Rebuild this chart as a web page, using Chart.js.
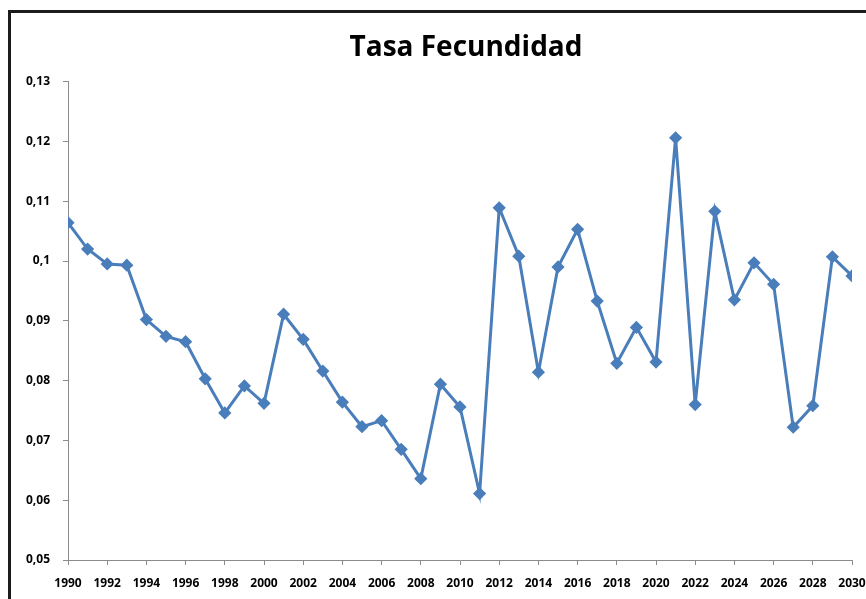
<!DOCTYPE html>
<html>
<head>
<meta charset="utf-8">
<script src="https://cdn.jsdelivr.net/npm/chart.js@4/dist/chart.umd.min.js"></script>
<style>
  body { margin: 0; background: #fff; overflow: hidden; }
  #frame { position: absolute; left: 8px; top: 10px; width: 940px; height: 640px; border: 3px solid #1c1c1c; }
  /* the frame runs past the right edge of the window, so the canvas does too */
  #wrap { position: absolute; left: 0; top: 0; width: 924px; height: 599px; }
</style>
</head>
<body>
<div id="frame"></div>
<div id="wrap"><canvas id="chart"></canvas></div>
<script>
const years = [1990, 1991, 1992, 1993, 1994, 1995, 1996, 1997, 1998, 1999,
               2000, 2001, 2002, 2003, 2004, 2005, 2006, 2007, 2008, 2009,
               2010, 2011, 2012, 2013, 2014, 2015, 2016, 2017, 2018, 2019,
               2020, 2021, 2022, 2023, 2024, 2025, 2026, 2027, 2028, 2029, 2030];
const tasaFecundidad = [0.1064, 0.1020, 0.0995, 0.0993, 0.0902, 0.0874, 0.0865, 0.0803, 0.0746, 0.0791,
                        0.0762, 0.0911, 0.0869, 0.0816, 0.0764, 0.0723, 0.0733, 0.0685, 0.0636, 0.0794,
                        0.0756, 0.0611, 0.1089, 0.1008, 0.0814, 0.0990, 0.1053, 0.0933, 0.0829, 0.0889,
                        0.0831, 0.1206, 0.0760, 0.1083, 0.0935, 0.0997, 0.0961, 0.0722, 0.0758, 0.1007, 0.0975];
const yMin = 0.05, yMax = 0.13, yStep = 0.01;
const xStep = 2;

const axisColor = '#8c8c8c';
const tickFont = { family: 'Open Sans', size: 12, weight: 'bold' };

const ctx = document.getElementById('chart').getContext('2d');
const chart = new Chart(ctx, {
    type: 'line',
    data: {
        datasets: [{
            label: 'Tasa Fecundidad',
            data: years.map((y, i) => ({ x: y, y: tasaFecundidad[i] })),
            borderColor: '#4a7ebb',
            backgroundColor: '#4a7ebb',
            borderWidth: 3,
            pointStyle: 'rectRot',
            pointRadius: 4.5,
            pointHoverRadius: 4.5,
            tension: 0,
            fill: false,
        }]
    },
    options: {
        responsive: true,
        maintainAspectRatio: false,
        animation: false,
        layout: { padding: { left: 8, top: 10, right: 0, bottom: 0 } },
        plugins: {
            legend: { display: false },
            tooltip: { enabled: false },
            title: {
                display: true,
                text: 'Tasa Fecundidad',
                color: '#000',
                font: { family: 'Open Sans', size: 28, weight: 'bold' },
                padding: { top: 21, bottom: 17 }
            }
        },
        scales: {
            x: {
                type: 'linear',
                min: 1990,
                max: 2030,
                ticks: {
                    stepSize: xStep,
                    color: '#000',
                    font: tickFont,
                    padding: 11,
                    maxRotation: 0,
                    autoSkip: false,
                    callback: v => String(v)
                },
                grid: { drawOnChartArea: false, tickLength: 5, color: axisColor },
                border: { color: axisColor, width: 1 },
                afterFit: s => { s.height = 39; s.paddingRight = 72; }
            },
            y: {
                min: yMin,
                max: yMax,
                ticks: {
                    stepSize: yStep,
                    color: '#000',
                    font: tickFont,
                    padding: 13,
                    callback: v => String(+v.toFixed(2)).replace('.', ',')
                },
                grid: { drawOnChartArea: false, tickLength: 5, color: axisColor },
                border: { color: axisColor, width: 1 },
                afterFit: s => { s.width = 60; }
            }
        }
    }
});
</script>
</body>
</html>
